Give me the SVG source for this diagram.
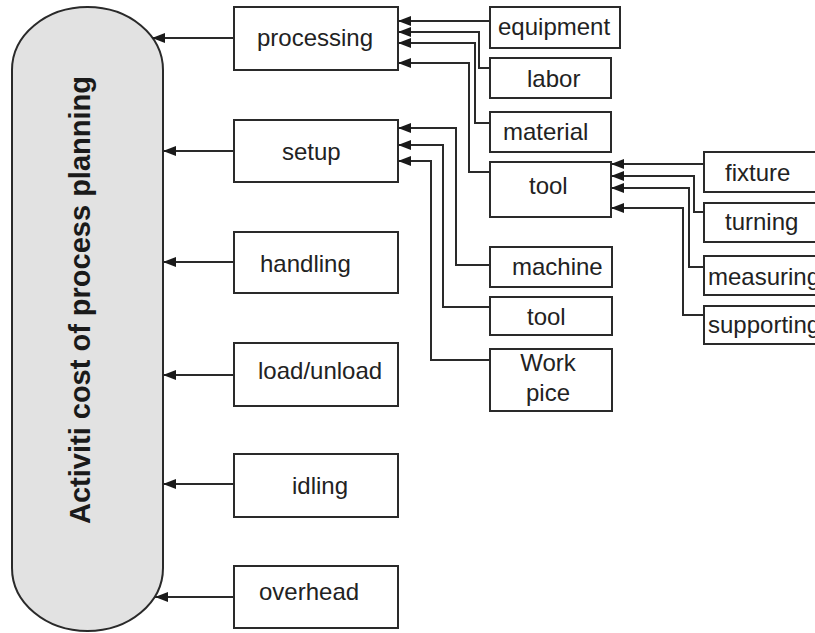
<svg xmlns="http://www.w3.org/2000/svg" width="815" height="633" viewBox="0 0 815 633">
<style>
.box{fill:#fff;stroke:#2a2a2a;stroke-width:2}
.t{font-family:"Liberation Sans",Arial,sans-serif;font-size:24px;fill:#222}
.title{font-family:"Liberation Sans",Arial,sans-serif;font-size:29px;font-weight:bold;fill:#1a1a1a}
.c{fill:none;stroke:#2a2a2a;stroke-width:2}
</style>
<defs>
<marker id="ah" markerUnits="userSpaceOnUse" markerWidth="14" markerHeight="11" refX="13" refY="5" orient="auto">
<path d="M0,0 L13,5 L0,10 z" fill="#1a1a1a"/>
</marker>
</defs>
<rect width="815" height="633" fill="#fff"/>
<g id="root">
<rect x="12" y="7" width="151" height="624" rx="75.5" ry="63" fill="#e2e2e2" stroke="#2a2a2a" stroke-width="2"/>
<text class="title" transform="translate(90,300) rotate(-90)" text-anchor="middle">Activiti cost of process planning</text>
</g>
<g id="processing"><rect class="box" x="234" y="7" width="164" height="63"/><text class="t" x="257" y="46">processing</text></g>
<g id="setup"><rect class="box" x="234" y="120" width="164" height="62"/><text class="t" x="282" y="160">setup</text></g>
<g id="handling"><rect class="box" x="234" y="232" width="164" height="61"/><text class="t" x="260" y="272">handling</text></g>
<g id="loadunload"><rect class="box" x="234" y="343" width="164" height="63"/><text class="t" x="258" y="379">load/unload</text></g>
<g id="idling"><rect class="box" x="234" y="454" width="164" height="63"/><text class="t" x="292" y="494">idling</text></g>
<g id="overhead"><rect class="box" x="234" y="566" width="164" height="62"/><text class="t" x="259" y="600">overhead</text></g>
<g id="equipment"><rect class="box" x="490" y="7" width="130" height="41"/><text class="t" x="498" y="35">equipment</text></g>
<g id="labor"><rect class="box" x="490" y="58" width="121" height="40"/><text class="t" x="527" y="87">labor</text></g>
<g id="material"><rect class="box" x="490" y="112" width="121" height="40"/><text class="t" x="503" y="140">material</text></g>
<g id="tool1"><rect class="box" x="490" y="162" width="121" height="55"/><text class="t" x="529" y="194">tool</text></g>
<g id="machine"><rect class="box" x="490" y="247" width="122" height="40"/><text class="t" x="512" y="275">machine</text></g>
<g id="tool2"><rect class="box" x="490" y="297" width="122" height="38"/><text class="t" x="527" y="325">tool</text></g>
<g id="workpice"><rect class="box" x="490" y="349" width="122" height="62"/><text class="t" x="548" y="371" text-anchor="middle">Work</text><text class="t" x="548" y="401" text-anchor="middle">pice</text></g>
<g id="fixture"><rect class="box" x="704" y="152" width="140" height="40"/><text class="t" x="725" y="181">fixture</text></g>
<g id="turning"><rect class="box" x="704" y="203" width="140" height="39"/><text class="t" x="725" y="230">turning</text></g>
<g id="measuring"><rect class="box" x="704" y="256" width="140" height="39"/><text class="t" x="708" y="285">measuring</text></g>
<g id="supporting"><rect class="box" x="704" y="306" width="140" height="38"/><text class="t" x="708" y="333">supporting</text></g>
<g id="connectors">
<path class="c" marker-end="url(#ah)" d="M234,38 H152"/>
<path class="c" marker-end="url(#ah)" d="M234,151 H163"/>
<path class="c" marker-end="url(#ah)" d="M234,262 H163"/>
<path class="c" marker-end="url(#ah)" d="M234,375 H163"/>
<path class="c" marker-end="url(#ah)" d="M234,484 H163"/>
<path class="c" marker-end="url(#ah)" d="M234,597 H155"/>
<path class="c" marker-end="url(#ah)" d="M490,21 H398"/>
<path class="c" marker-end="url(#ah)" d="M490,68 H479 V32 H398"/>
<path class="c" marker-end="url(#ah)" d="M490,123 H475 V43 H398"/>
<path class="c" marker-end="url(#ah)" d="M490,172 H469 V63 H398"/>
<path class="c" marker-end="url(#ah)" d="M490,265 H456 V128 H398"/>
<path class="c" marker-end="url(#ah)" d="M490,307 H443 V145 H398"/>
<path class="c" marker-end="url(#ah)" d="M490,360 H431 V161 H398"/>
<path class="c" marker-end="url(#ah)" d="M704,164 H611"/>
<path class="c" marker-end="url(#ah)" d="M704,212 H694 V176 H611"/>
<path class="c" marker-end="url(#ah)" d="M704,267 H689 V188 H611"/>
<path class="c" marker-end="url(#ah)" d="M704,315 H683 V208 H611"/>
</g>
</svg>
